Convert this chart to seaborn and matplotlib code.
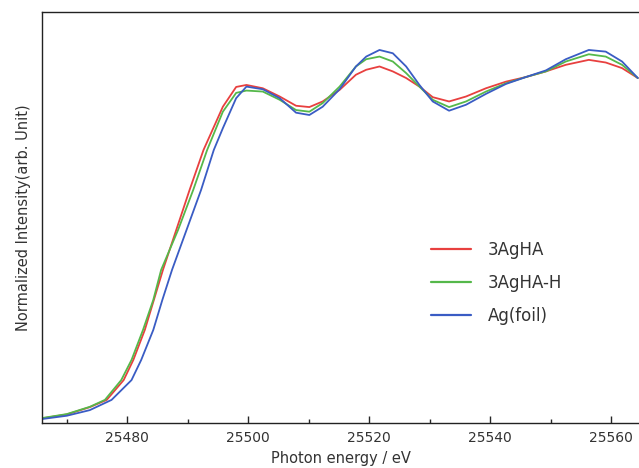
import numpy as np
import pandas as pd
import seaborn as sns
import matplotlib
matplotlib.use("Agg")
import matplotlib.pyplot as plt
from matplotlib.ticker import MultipleLocator

# photon energy (eV) and normalized intensity
energy_3aghah = [25465.9, 25470.0, 25473.8, 25476.6, 25479.4, 25481.0, 25482.9, 25484.4,
                 25485.9, 25488.1, 25490.3, 25492.6, 25495.8, 25498.0, 25499.7, 25502.4,
                 25505.2, 25507.9, 25510.1, 25512.3, 25515.1, 25517.8, 25519.5, 25521.7,
                 25523.9, 25526.1, 25528.3, 25530.5, 25533.2, 25536.0, 25539.3, 25542.6,
                 25545.9, 25549.2, 25552.5, 25556.3, 25559.1, 25561.8, 25564.4]
int_3aghah = [0.014, 0.026, 0.048, 0.070, 0.130, 0.191, 0.282, 0.373,
              0.464, 0.585, 0.706, 0.827, 0.958, 1.018, 1.024, 1.014,
              0.989, 0.961, 0.957, 0.974, 1.009, 1.055, 1.070, 1.080,
              1.065, 1.045, 1.019, 0.987, 0.974, 0.989, 1.014, 1.034,
              1.048, 1.065, 1.085, 1.100, 1.092, 1.075, 1.045]

energy_3aghah_h = [25465.9, 25470.0, 25473.8, 25476.3, 25479.0, 25480.7, 25482.6, 25484.3,
                   25485.6, 25488.4, 25490.9, 25493.2, 25495.8, 25498.0, 25499.7, 25502.4,
                   25505.2, 25507.9, 25510.1, 25512.3, 25515.1, 25517.8, 25519.5, 25521.7,
                   25523.9, 25526.1, 25528.3, 25530.5, 25533.2, 25536.0, 25539.3, 25542.6,
                   25545.9, 25549.2, 25552.5, 25556.3, 25559.1, 25561.8, 25564.4]
int_3aghah_h = [0.015, 0.027, 0.049, 0.070, 0.130, 0.191, 0.282, 0.373,
                0.464, 0.585, 0.706, 0.827, 0.943, 1.000, 1.007, 1.004,
                0.979, 0.948, 0.943, 0.969, 1.019, 1.080, 1.102, 1.110,
                1.095, 1.060, 1.019, 0.979, 0.957, 0.974, 1.004, 1.029,
                1.048, 1.065, 1.095, 1.117, 1.110, 1.085, 1.045]

energy_ag = [25465.9, 25470.0, 25473.8, 25477.4, 25480.7, 25482.3, 25484.3, 25485.8,
             25487.4, 25489.8, 25492.2, 25494.3, 25495.8, 25498.0, 25499.7, 25502.4,
             25505.2, 25507.9, 25510.1, 25512.3, 25515.1, 25517.8, 25519.5, 25521.7,
             25523.9, 25526.1, 25528.3, 25530.5, 25533.2, 25536.0, 25539.3, 25542.6,
             25545.9, 25549.2, 25552.5, 25556.3, 25559.1, 25561.8, 25564.4]
int_ag = [0.012, 0.022, 0.039, 0.070, 0.130, 0.191, 0.282, 0.373,
          0.464, 0.585, 0.706, 0.827, 0.893, 0.984, 1.019, 1.011,
          0.984, 0.940, 0.933, 0.958, 1.011, 1.080, 1.110, 1.130,
          1.120, 1.080, 1.024, 0.974, 0.946, 0.964, 0.997, 1.027,
          1.048, 1.068, 1.102, 1.130, 1.125, 1.095, 1.045]

labels = ["3AgHA", "3AgHA-H", "Ag(foil)"]
colors = {"3AgHA": "#e8403f", "3AgHA-H": "#55b84a", "Ag(foil)": "#3a5cc4"}

df = pd.concat([
    pd.DataFrame({"energy": energy_3aghah, "intensity": int_3aghah, "sample": labels[0]}),
    pd.DataFrame({"energy": energy_3aghah_h, "intensity": int_3aghah_h, "sample": labels[1]}),
    pd.DataFrame({"energy": energy_ag, "intensity": int_ag, "sample": labels[2]}),
], ignore_index=True)

sns.set_style("ticks")
plt.rcParams["font.family"] = ["DejaVu Sans"]

fig = plt.figure(figsize=(6.39, 4.68), dpi=100)
ax = fig.add_axes([42 / 639, 1 - 423 / 468, 1 - 42 / 639, (423 - 12) / 468])

sns.lineplot(data=df, x="energy", y="intensity", hue="sample", hue_order=labels,
             palette=colors, sort=False, estimator=None, linewidth=1.3, ax=ax)

ax.set_xlim(25465.9, 25564.6)
ax.set_ylim(0, 1.245)
ax.xaxis.set_major_locator(MultipleLocator(20))
ax.xaxis.set_minor_locator(MultipleLocator(10))
ax.tick_params(axis="x", which="major", direction="in", length=5, width=1,
               labelsize=10, labelcolor="#333333", pad=6)
ax.tick_params(axis="x", which="minor", direction="in", length=3, width=1)
ax.set_yticks([])
ax.spines["right"].set_visible(False)
for s in ["left", "top", "bottom"]:
    ax.spines[s].set_color("#222222")
    ax.spines[s].set_linewidth(1.0)

ax.set_xlabel("Photon energy / eV", fontsize=10.5, color="#333333", labelpad=4)
ax.set_ylabel("Normalized Intensity(arb. Unit)", fontsize=10.5, color="#333333", labelpad=8)

leg = ax.legend(loc="upper left", bbox_to_anchor=(416 / 639, 1 - 226 / 468),
                bbox_transform=fig.transFigure, frameon=False, fontsize=12,
                handlelength=2.4, handletextpad=1.0, labelspacing=0.9)
for t in leg.get_texts():
    t.set_color("#333333")
for line in leg.get_lines():
    line.set_linewidth(1.6)

fig.savefig("out.png", dpi=100)
